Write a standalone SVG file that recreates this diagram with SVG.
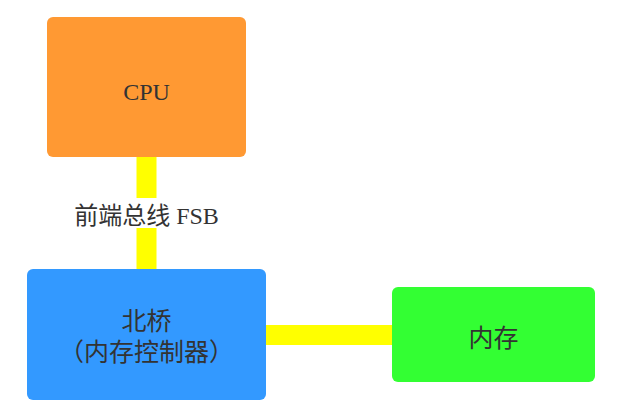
<svg xmlns="http://www.w3.org/2000/svg" width="618" height="402" viewBox="0 0 618 402">
<style>
.t{font-family:"Liberation Serif","Noto Sans CJK SC",serif;font-size:24px;fill:#333;text-anchor:middle}
.n{font-size:25px}
.bus{stroke:#FFFF00;stroke-width:20;fill:none}
</style>
<rect width="618" height="402" fill="#fff"/>
<g id="connectors">
<line class="bus" x1="146.5" y1="157" x2="146.5" y2="269"/>
<line class="bus" x1="266" y1="335" x2="392" y2="335"/>
<rect x="120" y="198" width="54" height="30" fill="#fff"/>
<text class="t" x="146.5" y="224">前端总线 FSB</text>
</g>
<g id="cpu">
<rect x="47" y="17" width="199" height="140" rx="6" fill="#FF9933"/>
<text class="t" x="146.5" y="99.5">CPU</text>
</g>
<g id="northbridge">
<rect x="27" y="269" width="239" height="131" rx="6" fill="#3399FF"/>
<text class="t n" x="146.5" y="330">北桥</text>
<text class="t n" x="146.5" y="361">（内存控制器）</text>
</g>
<g id="memory">
<rect x="392" y="287" width="203" height="95" rx="6" fill="#33FF33"/>
<text class="t n" x="493.5" y="347">内存</text>
</g>
</svg>
